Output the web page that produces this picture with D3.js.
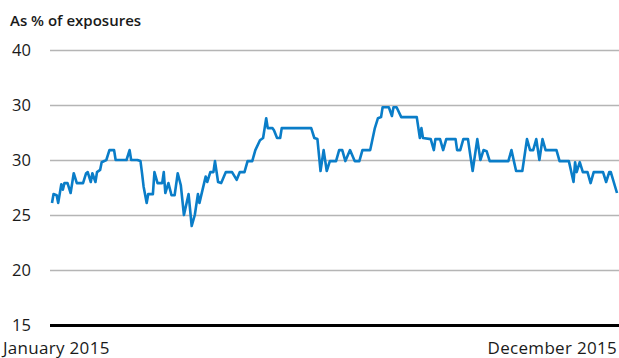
<!DOCTYPE html>
<html>
<head>
<meta charset="utf-8">
<script src="https://cdn.jsdelivr.net/npm/d3@7"></script>
<style>
  html, body { margin: 0; padding: 0; background: #fff; }
  svg text { font-family: "Open Sans", "Noto Sans", sans-serif; fill: #1a1a1a; }
</style>
</head>
<body>
<svg id="chart" width="619" height="358"></svg>
<script>
// Day of year (0 = 1 January 2015) for each reading
const days = [0, 1, 3, 4, 6, 7, 8, 10, 12, 14, 16, 20, 22, 23, 25, 26, 28, 29, 31, 32, 35, 37, 40, 41, 48, 50, 51, 55,
  57, 58, 59, 61, 62, 65, 66, 68, 71, 72, 73, 75, 77, 79, 81, 83, 85, 88, 90, 92, 94, 95, 98, 99, 100, 102, 104, 105,
  107, 109, 112, 116, 119, 121, 124, 126, 129, 131, 134, 136, 137, 138, 139, 142, 143, 145, 147, 148, 167, 169, 171,
  173, 175, 177, 179, 183, 185, 187, 189, 192, 195, 198, 200, 205, 208, 210, 212, 213, 217, 219, 220, 222, 225, 235,
  237, 238, 239, 244, 246, 247, 250, 252, 254, 260, 261, 263, 265, 268, 269, 271, 274, 276, 278, 280, 282, 294, 296,
  299, 303, 306, 308, 310, 312, 314, 316, 318, 325, 327, 333, 336, 337, 338, 340, 342, 345, 347, 349, 355, 357, 359,
  360, 364];
// Share of exposures, %
const values = [26.1, 26.9, 26.8, 26.1, 27.8, 27.3, 27.9, 27.9, 27.0, 28.8, 27.9, 27.9, 28.8, 28.9, 28.0, 28.8, 28.0,
  28.9, 29.1, 29.8, 30.0, 30.9, 30.9, 30.0, 30.0, 30.9, 30.0, 30.0, 29.9, 28.8, 27.6, 26.1, 26.9, 26.9, 28.9, 27.9,
  27.9, 28.9, 27.0, 27.9, 26.8, 26.8, 28.8, 27.7, 25.0, 26.9, 24.0, 25.0, 26.9, 26.1, 27.9, 28.5, 28.0, 28.9, 28.9,
  29.9, 28.0, 27.9, 28.9, 28.9, 28.2, 28.9, 28.9, 29.9, 29.9, 30.9, 31.8, 32.0, 32.9, 33.8, 32.9, 32.9, 32.7, 32.0,
  32.0, 32.9, 32.9, 32.0, 31.9, 29.0, 30.9, 29.0, 29.9, 29.9, 30.9, 30.9, 29.9, 30.9, 29.9, 29.9, 30.9, 30.9, 32.9,
  33.8, 33.9, 34.8, 34.8, 34.0, 34.8, 34.8, 33.9, 33.9, 32.0, 32.9, 32.0, 31.9, 30.9, 31.9, 31.9, 30.9, 31.9, 31.9,
  30.9, 30.9, 31.9, 31.9, 30.9, 29.0, 31.9, 30.0, 30.9, 30.8, 29.9, 29.9, 30.9, 29.0, 29.0, 31.9, 30.9, 30.9, 31.9,
  30.0, 31.9, 30.9, 30.9, 29.9, 29.9, 28.0, 29.8, 28.9, 29.8, 28.9, 28.9, 27.9, 28.9, 28.9, 28.0, 28.9, 28.9, 27.0];

// Gridline levels and the labels printed beside them
const tickValues = [40, 35, 30, 25, 20, 15];
const tickLabels = ["40", "30", "30", "25", "20", "15"];
const axisTitle = "As % of exposures";
const startLabel = "January 2015";
const endLabel = "December 2015";

const svg = d3.select("#chart");
const start = new Date(2015, 0, 1);
const dates = days.map(d => d3.timeDay.offset(start, d));

const x = d3.scaleTime()
  .domain([start, d3.timeDay.offset(start, 364)])
  .range([52, 617]);
const y = d3.scaleLinear().domain([15, 40]).range([325, 50]);

// Horizontal gridlines
const yAxis = d3.axisLeft(y)
  .tickValues(tickValues)
  .tickSize(-569)
  .tickFormat((d, i) => tickLabels[i]);

const gAxis = svg.append("g")
  .attr("transform", "translate(50,0)")
  .call(yAxis);
gAxis.select(".domain").remove();
gAxis.selectAll(".tick line")
  .attr("stroke", d => d === 15 ? "#000" : "#b5b5b5")
  .attr("stroke-width", d => d === 15 ? 3 : 1.6);
gAxis.selectAll(".tick text")
  .attr("x", -38)
  .attr("dy", "0.36em")
  .attr("text-anchor", "start")
  .style("font-size", "16.5px")
  .style("font-family", "'Open Sans', sans-serif")
  .attr("fill", "#1a1a1a");

// Series line
const line = d3.line()
  .x((d, i) => x(dates[i]))
  .y(d => y(d));

svg.append("path")
  .datum(values)
  .attr("fill", "none")
  .attr("stroke", "#0a7dc8")
  .attr("stroke-width", 2.6)
  .attr("stroke-linejoin", "round")
  .attr("d", line);

// Titles
svg.append("text")
  .attr("x", 10).attr("y", 26)
  .style("font-size", "15px")
  .style("font-weight", 600)
  .text(axisTitle);

svg.append("text")
  .attr("x", 3).attr("y", 354)
  .style("font-size", "17px")
  .style("letter-spacing", "0.3px")
  .text(startLabel);

svg.append("text")
  .attr("x", 617).attr("y", 354)
  .attr("text-anchor", "end")
  .style("font-size", "17px")
  .style("letter-spacing", "0.3px")
  .text(endLabel);
</script>
</body>
</html>
